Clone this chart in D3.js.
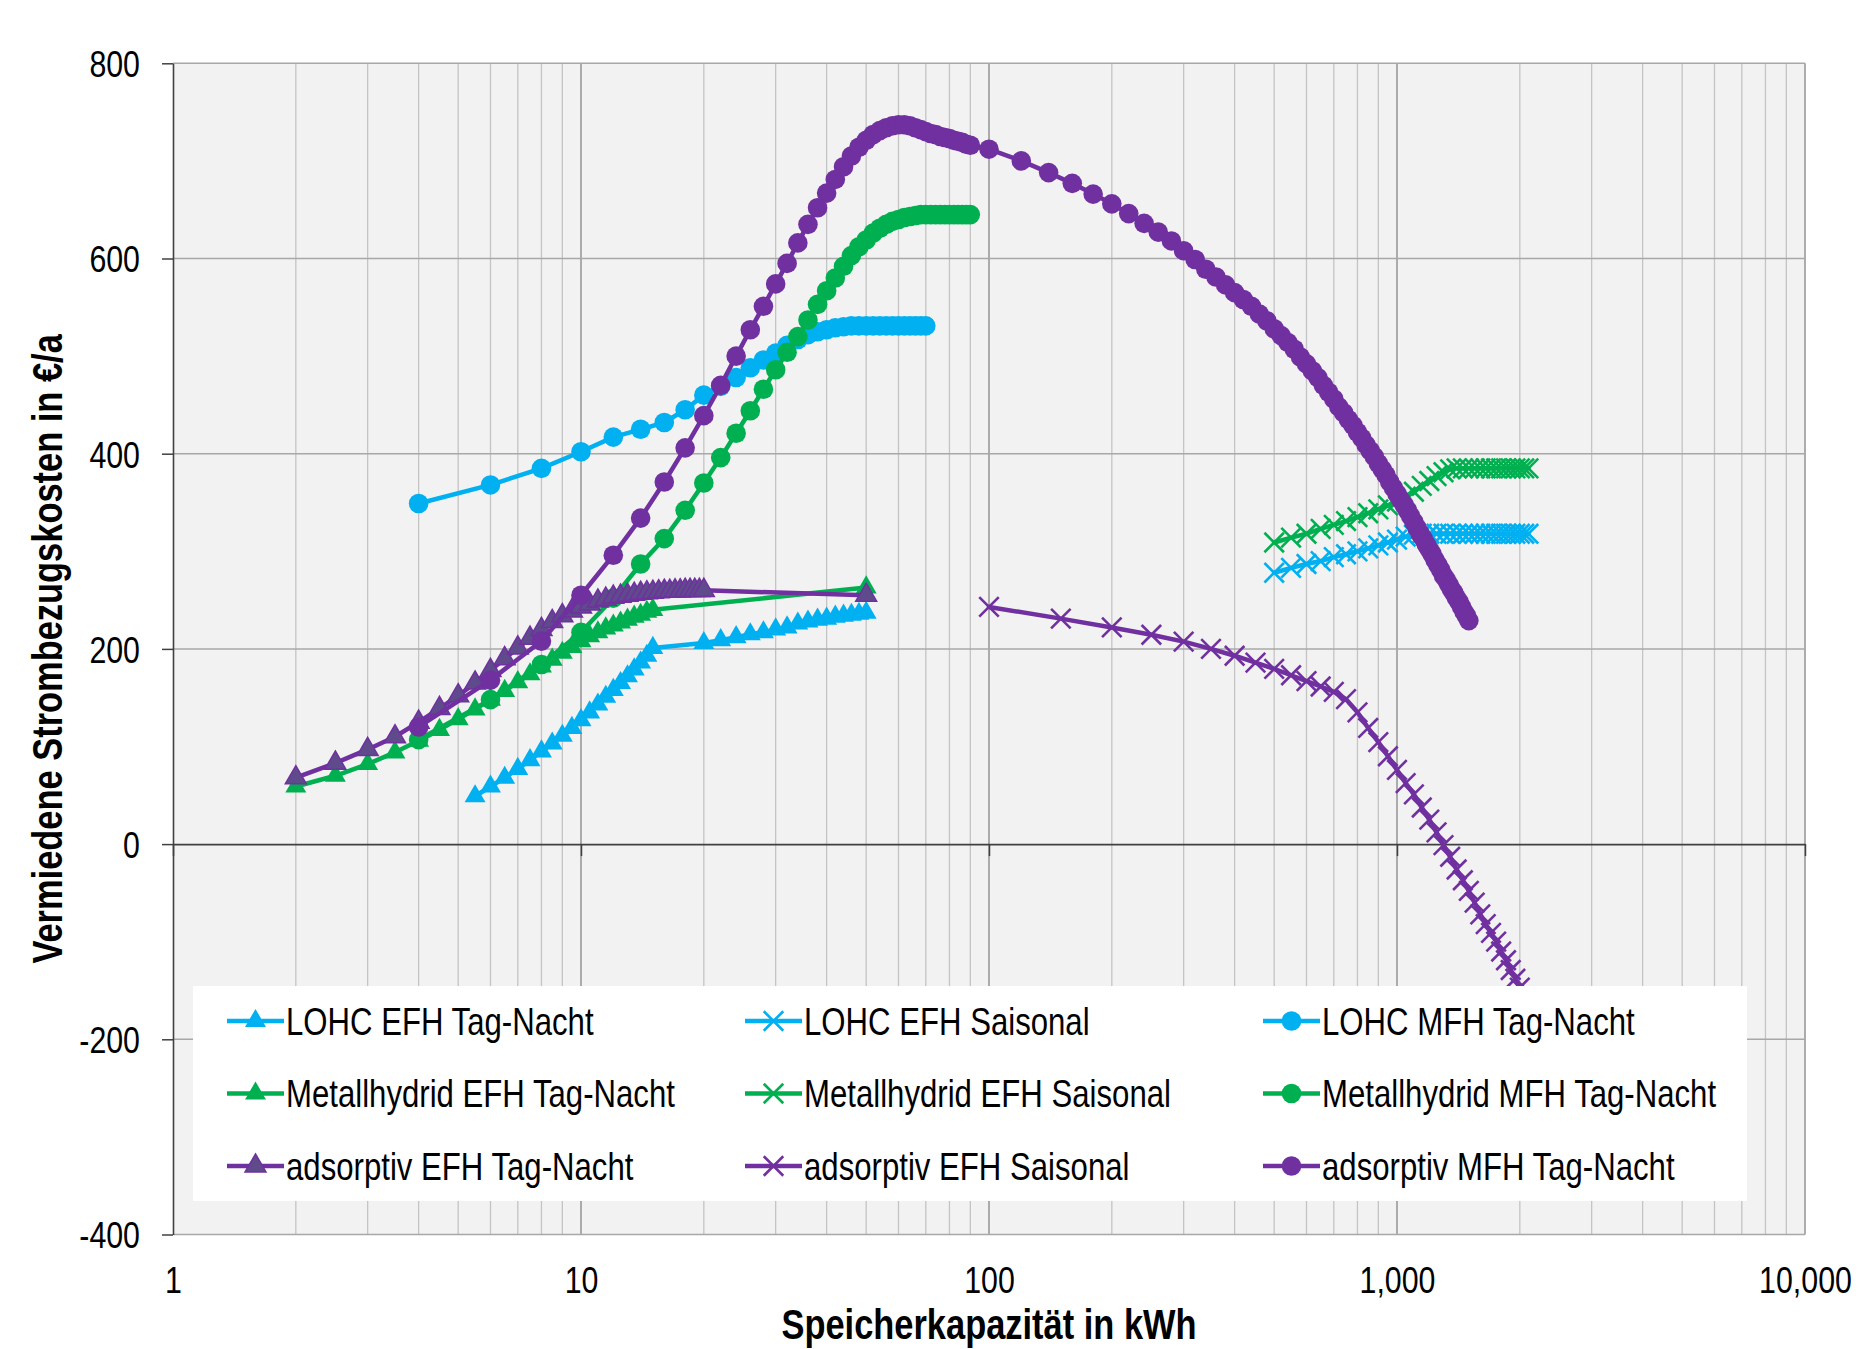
<!DOCTYPE html>
<html>
<head>
<meta charset="utf-8">
<script src="https://cdn.jsdelivr.net/npm/d3@7"></script>
<style>
  html, body { margin: 0; padding: 0; background: #ffffff; }
  svg { display: block; }
  text { font-family: "Liberation Sans", Arial, sans-serif; fill: #000000; }
</style>
</head>
<body>
<svg id="chart" width="1861" height="1349"></svg>
<script>
// ---------------- data ----------------
const xTickValues = [1, 10, 100, 1000, 10000];
const yTickValues = [-400, -200, 0, 200, 400, 600, 800];
const xAxisTitle = "Speicherkapazität in kWh";
const yAxisTitle = "Vermiedene Strombezugskosten in €/a";

// LOHC, Einfamilienhaus, Tag-Nacht-Speicher
const lohcEfhTagX = [5.5, 6, 6.5, 7, 7.5, 8, 8.5, 9, 9.5, 10, 10.5, 11, 11.5, 12, 12.5, 13, 13.5, 14, 14.5, 15,
  20, 22, 24, 26, 28, 30, 32, 34, 36, 38, 40, 42, 44, 46, 48, 50];
const lohcEfhTagY = [49, 59, 68, 77, 86, 95, 103, 111, 119, 127, 135, 143, 151, 158, 165, 172, 179, 186, 193, 201,
  206, 209, 212, 215, 217, 220, 222, 226, 228, 230, 231, 233, 234, 235, 236, 237];

// saisonale Speicher (LOHC und Metallhydrid, EFH)
const saisonalX = [500, 550, 600, 650, 700, 750, 800, 850, 900, 950, 1000, 1050, 1100, 1150, 1200, 1250, 1300,
  1350, 1400, 1450, 1500, 1550, 1600, 1650, 1700, 1750, 1800, 1850, 1900, 1950, 2000, 2050, 2100];
const lohcEfhSaisY = [278, 283, 287, 290, 294, 297, 300, 303, 306, 309, 312, 315, 317, 318, 318, 318, 318,
  318, 318, 318, 318, 318, 318, 318, 318, 318, 318, 318, 318, 318, 318, 318, 318];
const mhEfhSaisY = [309, 314, 318, 323, 327, 331, 335, 339, 343, 347, 351, 356, 361, 367, 372, 377, 381,
  384, 385, 385, 385, 385, 385, 385, 385, 385, 385, 385, 385, 385, 385, 385, 385];

// LOHC, Mehrfamilienhaus, Tag-Nacht-Speicher
const lohcMfhTagX = [4, 6, 8, 10, 12, 14, 16, 18, 20, 22, 24, 26, 28, 30, 32, 34, 36, 38, 40, 42, 44, 46, 48, 50,
  52, 54, 56, 58, 60, 62, 64, 66, 68, 70];
const lohcMfhTagY = [349, 368, 385, 402, 417, 425, 432, 445, 460, 469, 478, 488, 496, 503, 511, 517, 522, 525, 527, 529, 530, 531, 531, 531,
  531, 531, 531, 531, 531, 531, 531, 531, 531, 531];

// Metallhydrid, EFH, Tag-Nacht
const mhEfhTagX = [2, 2.5, 3, 3.5, 4, 4.5, 5, 5.5, 6, 6.5, 7, 7.5, 8, 8.5, 9, 9.5, 10, 10.5, 11, 11.5, 12, 12.5,
  13, 13.5, 14, 14.5, 15, 50];
const mhEfhTagY = [59, 70, 82, 94, 106, 117, 128, 138, 148, 157, 166, 174, 182, 189, 196, 202, 208, 213, 217, 221, 224, 227,
  230, 233, 235, 238, 240, 263];

// Metallhydrid, MFH, Tag-Nacht
const mhMfhTagX = [4, 6, 8, 10, 12, 14, 16, 18, 20, 22, 24, 26, 28, 30, 32, 34, 36, 38, 40, 42, 44, 46, 48, 50,
  52, 54, 56, 58, 60, 62, 64, 66, 68, 70, 72, 74, 76, 78, 80, 82, 84, 86, 88, 90];
const mhMfhTagY = [107, 148, 184, 217, 252, 287, 313, 342, 370, 396, 421, 444, 466, 486, 504, 520, 537, 553, 567, 580, 592, 603, 612, 619,
  626, 631, 635, 638, 640, 642, 643, 644, 645, 645, 645, 645, 645, 645, 645, 645, 645, 645, 645, 645];

// adsorptiv, EFH, Tag-Nacht
const adsEfhTagX = [2, 2.5, 3, 3.5, 4, 4.5, 5, 5.5, 6, 6.5, 7, 7.5, 8, 8.5, 9, 9.5, 10, 10.5, 11, 11.5, 12, 12.5,
  13, 13.5, 14, 14.5, 15, 15.5, 16, 16.5, 17, 17.5, 18, 18.5, 19, 19.5, 20, 50];
const adsEfhTagY = [68, 83, 97, 110, 125, 139, 152, 165, 178, 190, 201, 211, 220, 228, 234, 239, 243, 246, 249, 251, 253, 254,
  255, 256, 257, 257.5, 258, 258.5, 259, 259, 259.5, 259.5, 260, 260, 260, 260, 260, 255];

// adsorptiv, EFH, saisonal
const adsEfhSaisX = [100, 150, 200, 250, 300, 350, 400, 450, 500, 550, 600, 650, 700, 750, 800, 850, 900, 950, 1000, 1050,
  1100, 1150, 1200, 1250, 1300, 1350, 1400, 1450, 1500, 1550, 1600, 1650, 1700, 1750, 1800, 1850, 1900, 1950, 2000, 2050, 2100];
const adsEfhSaisY = [243, 231, 222, 214.5, 207.5, 200, 193, 186, 179.5, 173, 167, 161.5, 156, 148.5, 135, 119, 104.5, 90, 76, 62.5,
  51, 37.5, 25, 12, -1, -13, -26, -37, -48, -60, -72, -82, -91, -100, -110, -119, -129, -138, -147, -156, -165];

// adsorptiv, MFH, Tag-Nacht
const adsMfhTagX = [4, 6, 8, 10, 12, 14, 16, 18, 20, 22, 24, 26, 28, 30, 32, 34, 36, 38, 40, 42, 44, 46, 48, 50,
  52, 54, 56, 58, 60, 62, 64, 66, 68, 70, 72, 74, 76, 78, 80, 82, 84, 86, 88, 90,
  100, 120, 140, 160, 180, 200, 220, 240, 260, 280, 300, 320, 340, 360, 380, 400, 420, 440, 460, 480,
  500, 520, 540, 560, 580, 600, 620, 640, 660, 680, 700, 720, 740, 760, 780, 800, 820, 840, 860, 880,
  900, 920, 940, 960, 980, 1000, 1020, 1040, 1060, 1080, 1100, 1120, 1140, 1160, 1180, 1200, 1220, 1240, 1260, 1280,
  1300, 1320, 1340, 1360, 1380, 1400, 1420, 1440, 1460, 1480, 1500];
const adsMfhTagY = [120, 168, 208, 255, 296, 334, 371, 406, 439, 470, 500, 527, 551, 574, 595, 616, 635, 652, 667, 681, 694, 705, 714, 721,
  727, 731, 734, 736, 737, 737, 736, 734, 732, 730, 728, 727, 725, 724, 723, 721, 720, 719, 717, 716,
  712, 700, 688, 677, 666, 656, 646, 636, 627, 618, 608, 599, 589, 581, 573, 565, 558, 551, 543, 536,
  528, 521, 514, 507, 499, 492, 485, 478, 470, 463, 456, 448, 442, 435, 429, 422, 416, 409, 403, 397,
  390, 384, 378, 371, 365, 359, 353, 348, 342, 336, 330, 324, 318, 313, 307, 302, 297, 291, 286, 281,
  275, 271, 266, 261, 257, 252, 248, 243, 238, 234, 229];

// ---------------- styling ----------------
const CYAN = "#00b0f0", GREEN = "#00b050", PURPLE = "#7030a0";

// legend order = drawing order
const series = [
  { name: "LOHC EFH Tag-Nacht", xs: lohcEfhTagX, ys: lohcEfhTagY, color: CYAN, marker: "triangle" },
  { name: "LOHC EFH Saisonal", xs: saisonalX, ys: lohcEfhSaisY, color: CYAN, marker: "cross" },
  { name: "LOHC MFH Tag-Nacht", xs: lohcMfhTagX, ys: lohcMfhTagY, color: CYAN, marker: "circle" },
  { name: "Metallhydrid EFH Tag-Nacht", xs: mhEfhTagX, ys: mhEfhTagY, color: GREEN, marker: "triangle" },
  { name: "Metallhydrid EFH Saisonal", xs: saisonalX, ys: mhEfhSaisY, color: GREEN, marker: "cross" },
  { name: "Metallhydrid MFH Tag-Nacht", xs: mhMfhTagX, ys: mhMfhTagY, color: GREEN, marker: "circle" },
  { name: "adsorptiv EFH Tag-Nacht", xs: adsEfhTagX, ys: adsEfhTagY, color: PURPLE, marker: "triangle", fill: "#5f4a8b" },
  { name: "adsorptiv EFH Saisonal", xs: adsEfhSaisX, ys: adsEfhSaisY, color: PURPLE, marker: "cross" },
  { name: "adsorptiv MFH Tag-Nacht", xs: adsMfhTagX, ys: adsMfhTagY, color: PURPLE, marker: "circle" }
];

const NARROW = 0.82;           // horizontal squeeze for a narrow typeface look
const plot = { left: 173, right: 1805, top: 63.3, bottom: 1234.5 };

const svg = d3.select("#chart");

const x = d3.scaleLog().domain([1, 10000]).range([plot.left, plot.right]);
const y = d3.scaleLinear().domain([-400, 800]).range([plot.bottom, plot.top]);

// plot background
svg.append("rect")
  .attr("x", plot.left).attr("y", plot.top)
  .attr("width", plot.right - plot.left).attr("height", plot.bottom - plot.top)
  .attr("fill", "#f2f2f2");

// vertical grid (log minor + decades)
const grid = svg.append("g");
const decades = new Set(xTickValues);
grid.selectAll("line.vx")
  .data(x.ticks().filter(v => v > 1))
  .join("line")
  .attr("x1", d => x(d)).attr("x2", d => x(d))
  .attr("y1", plot.top).attr("y2", plot.bottom)
  .attr("stroke", d => decades.has(d) ? "#999999" : "#c4c4c4")
  .attr("stroke-width", d => decades.has(d) ? 1.6 : 1.3);

// horizontal grid
grid.selectAll("line.hy")
  .data(yTickValues.filter(v => v !== 0))
  .join("line")
  .attr("x1", plot.left).attr("x2", plot.right)
  .attr("y1", d => y(d)).attr("y2", d => y(d))
  .attr("stroke", "#a8a8a8")
  .attr("stroke-width", 1.5);

// y axis (plain hyphen for negative numbers)
const yAxisG = svg.append("g")
  .attr("transform", `translate(${plot.left},0)`)
  .call(d3.axisLeft(y).tickValues(yTickValues).tickSize(11).tickSizeOuter(0).tickFormat(d => String(d)));
yAxisG.select(".domain").attr("stroke", "#404040").attr("stroke-width", 1.6);
yAxisG.selectAll(".tick line").attr("stroke", "#404040").attr("stroke-width", 1.5);
yAxisG.selectAll(".tick text")
  .attr("font-size", 37)
  .attr("font-family", "Liberation Sans, Arial, sans-serif")
  .attr("fill", "#000")
  .attr("x", -33 / NARROW)
  .attr("dy", "0.36em")
  .attr("transform", `scale(${NARROW},1)`);

// x axis line through zero with decade ticks
const xAxisZero = svg.append("g")
  .attr("transform", `translate(0,${y(0)})`)
  .call(d3.axisBottom(x).tickValues(xTickValues).tickSize(12).tickSizeOuter(0).tickFormat(""));
xAxisZero.select(".domain").attr("stroke", "#404040").attr("stroke-width", 1.6);
xAxisZero.selectAll(".tick line").attr("stroke", "#404040").attr("stroke-width", 1.5);

// x tick labels below the plot area
const xLabels = svg.append("g")
  .attr("transform", `translate(0,${plot.bottom})`)
  .call(d3.axisBottom(x).tickValues(xTickValues).tickSize(0).tickFormat(d3.format(",")));
xLabels.select(".domain").remove();
xLabels.selectAll(".tick text")
  .attr("font-size", 37)
  .attr("font-family", "Liberation Sans, Arial, sans-serif")
  .attr("fill", "#000")
  .attr("y", 58.5)
  .attr("dy", 0)
  .attr("transform", `scale(${NARROW},1)`);

// axis titles
svg.append("text")
  .attr("transform", `translate(${(plot.left + plot.right) / 2},1339) scale(${NARROW},1)`)
  .attr("text-anchor", "middle")
  .attr("font-size", 42)
  .attr("font-weight", "bold")
  .text(xAxisTitle);

svg.append("text")
  .attr("transform", `translate(62,${(plot.top + plot.bottom) / 2}) rotate(-90) scale(${NARROW},1)`)
  .attr("text-anchor", "middle")
  .attr("font-size", 42)
  .attr("font-weight", "bold")
  .text(yAxisTitle);

// marker shapes
const triangleSym = d3.symbol().type(d3.symbolTriangle).size(190);
const crossSym = {
  draw(ctx, size) {
    const r = Math.sqrt(size) / 2;
    ctx.moveTo(-r, -r); ctx.lineTo(r, r);
    ctx.moveTo(-r, r); ctx.lineTo(r, -r);
  }
};
const crossPath = d3.symbol().type(crossSym).size(380);

function drawMarker(sel, s) {
  if (s.marker === "circle") {
    sel.append("circle").attr("r", 9.8).attr("fill", s.color);
  } else if (s.marker === "triangle") {
    sel.append("path").attr("d", triangleSym())
      .attr("fill", s.fill || s.color)
      .attr("stroke", s.fill ? s.color : "none")
      .attr("stroke-width", s.fill ? 1.5 : 0);
  } else {
    sel.append("path").attr("d", crossPath())
      .attr("fill", "none")
      .attr("stroke", s.color)
      .attr("stroke-width", 2.6);
  }
}

const line = d3.line().x(d => x(d[0])).y(d => y(d[1]));

const seriesG = svg.append("g");
series.forEach(s => {
  const pts = s.xs.map((v, i) => [v, s.ys[i]]);
  const g = seriesG.append("g");
  g.append("path")
    .datum(pts)
    .attr("d", line)
    .attr("fill", "none")
    .attr("stroke", s.color)
    .attr("stroke-width", 4.5)
    .attr("stroke-linejoin", "round")
    .attr("stroke-linecap", "round");
  g.selectAll("g.m")
    .data(pts)
    .join("g")
    .attr("transform", d => `translate(${x(d[0])},${y(d[1])})`)
    .each(function () { drawMarker(d3.select(this), s); });
});

// legend
const legend = svg.append("g");
legend.append("rect")
  .attr("x", 193).attr("y", 986)
  .attr("width", 1747 - 193).attr("height", 1201 - 986)
  .attr("fill", "#ffffff");

const colX = [227, 745, 1263];
const rowY = [1021, 1093.5, 1166];
series.forEach((s, i) => {
  const cx = colX[i % 3], cy = rowY[Math.floor(i / 3)];
  const item = legend.append("g");
  item.append("line")
    .attr("x1", cx).attr("x2", cx + 57)
    .attr("y1", cy).attr("y2", cy)
    .attr("stroke", s.color).attr("stroke-width", 4.5);
  const m = item.append("g").attr("transform", `translate(${cx + 28.5},${cy})`);
  drawMarker(m, s);
  item.append("text")
    .attr("transform", `translate(${cx + 59},${cy + 13.5}) scale(${NARROW},1)`)
    .attr("font-size", 38)
    .text(s.name);
});
</script>
</body>
</html>
